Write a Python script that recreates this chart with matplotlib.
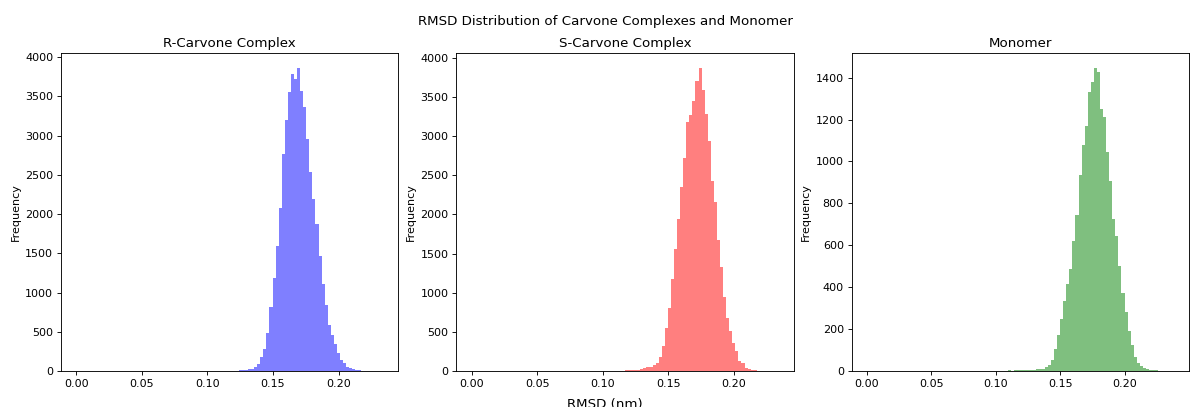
import numpy as np
import matplotlib
matplotlib.use("Agg")
import matplotlib.pyplot as plt

# Histogram counts per bin (100 equal bins from 0 to the largest RMSD of each run)
N_BINS = 100

r_max = 0.2339
r_counts = [0] * 100
r_counts[0] = 3
r_tail_start = 45
r_tail = [1, 2, 2, 3, 3, 4, 5, 6, 8, 10, 13, 21,
          30, 48, 90, 172, 278, 490, 815, 1187, 1588, 2083, 2760, 3200,
          3558, 3788, 3722, 3855, 3573, 3367, 2960, 2537, 2187, 1875, 1467, 1112,
          835, 592, 455, 346, 225, 140, 102, 55, 34, 20, 13, 8,
          5, 3, 2, 1, 1, 0, 1]

s_max = 0.2340
s_counts = [0] * 100
s_counts[0] = 3
s_tail_start = 45
s_tail = [2, 3, 4, 5, 6, 8, 9, 10, 12, 15,
          21, 34, 47, 55, 76, 98, 183, 325, 548, 807, 1178, 1558,
          1940, 2352, 2726, 3176, 3274, 3443, 3700, 3864, 3584, 3288, 2936, 2422,
          2160, 1669, 1325, 951, 675, 514, 360, 250, 132, 106, 42, 21,
          13, 8, 5, 3, 2, 1, 1, 0, 1]

m_max = 0.2380
m_counts = [0] * 100
m_counts[0] = 2
m_tail_start = 39
m_tail = [1, 1, 1, 2, 1, 2, 2, 3, 2, 3, 3, 4, 4, 5, 5, 6, 8, 10,
          10, 18, 27, 52, 105, 171, 248, 333, 416, 489, 619, 746,
          936, 1079, 1171, 1333, 1378, 1444, 1428, 1251, 1214, 1044, 909, 727,
          644, 500, 370, 280, 190, 122, 68, 38, 22, 14, 9, 6,
          4, 3, 2, 1, 1, 1, 1]

for counts, start, tail in ((r_counts, r_tail_start, r_tail),
                            (s_counts, s_tail_start, s_tail),
                            (m_counts, m_tail_start, m_tail)):
    counts[start:start + len(tail)] = tail

titles = ["R-Carvone Complex", "S-Carvone Complex", "Monomer"]
colors = ["blue", "red", "green"]
maxima = [r_max, s_max, m_max]
all_counts = [r_counts, s_counts, m_counts]

DPI = 80
fig, axes = plt.subplots(1, 3, figsize=(1200 / DPI, 407 / DPI), dpi=DPI)
fig.subplots_adjust(left=0.0508, right=0.9908, top=0.869, bottom=0.0885,
                    wspace=0.172)

for ax, title, color, vmax, counts in zip(axes, titles, colors, maxima, all_counts):
    edges = np.linspace(0.0, vmax, N_BINS + 1)
    centers = 0.5 * (edges[:-1] + edges[1:])
    ax.hist(centers, bins=edges, weights=counts[:N_BINS], color=color, alpha=0.5)
    ax.set_title(title, fontsize=12)
    ax.set_ylabel("Frequency", fontsize=10)

fig.suptitle("RMSD Distribution of Carvone Complexes and Monomer",
             fontsize=12, x=0.5042, y=0.946, va="center")
fig.text(0.5042, -0.002, "RMSD (nm)", ha="center", va="baseline", fontsize=12)

fig.savefig("out.png", dpi=DPI)
